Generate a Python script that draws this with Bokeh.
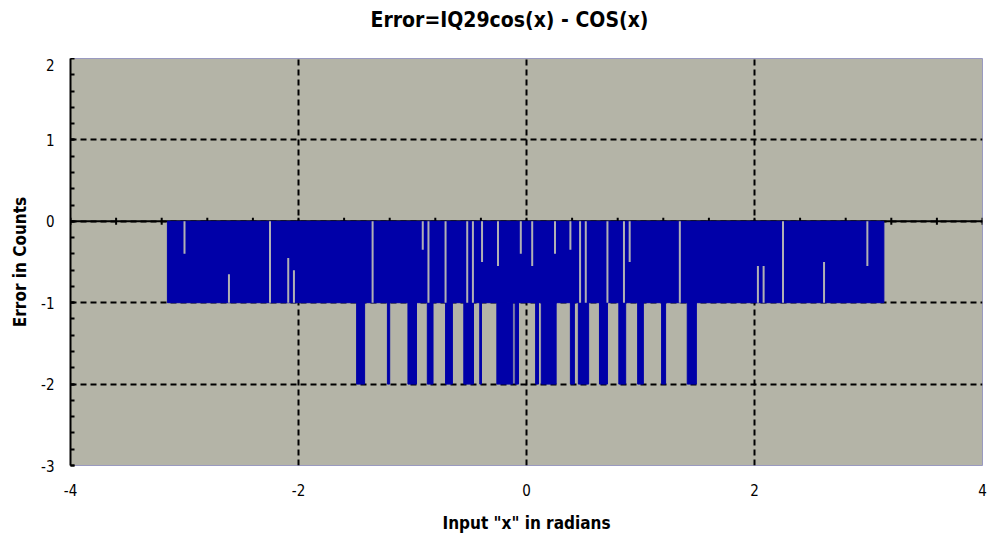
import numpy as np
from bokeh.plotting import figure
from bokeh.models import Range1d, FixedTicker, Span, PrintfTickFormatter, Div
from bokeh.layouts import column
from bokeh.embed import file_html
from bokeh.resources import INLINE

# ---- data ----
title_text = "Error=IQ29cos(x) - COS(x)"
x_label = 'Input "x" in radians'
y_label = "Error in Counts"

x_ticks = [-4, -2, 0, 2, 4]
y_ticks = [-3, -2, -1, 0, 1, 2]

# dense oscillation between 0 and -1 over the input range
band_left = [-3.15]
band_right = [3.135]
band_top = [0.0]
band_bottom = [-1.0]

# places where the error dips to -2 counts
dip_left = [-1.49, -1.22, -1.04, -0.87, -0.71, -0.55, -0.41, -0.26, -0.10,
            0.08, 0.13, 0.385, 0.455, 0.64, 0.81, 0.975, 1.185, 1.41]
dip_right = [-1.42, -1.20, -0.965, -0.82, -0.65, -0.465, -0.395, -0.12, -0.07,
             0.105, 0.26, 0.42, 0.545, 0.71, 0.87, 1.025, 1.22, 1.49]
dip_bottom = [-2.0] * len(dip_left)

# places where the error stays constant (gaps in the dense band)
gap_x = [-3.00, -2.61, -2.25, -2.09, -2.04, -1.35, -0.91, -0.86, -0.71, -0.52,
         -0.47, -0.39, -0.25, -0.05, 0.05, 0.25, 0.385, 0.47, 0.52, 0.71,
         0.855, 0.905, 1.345, 2.03, 2.08, 2.25, 2.61, 2.99]
gap_top = [0.0, -0.65, 0.0, -0.45, -0.6, 0.0, 0.0, 0.0, 0.0, 0.0,
           0.0, 0.0, 0.0, 0.0, 0.0, 0.0, 0.0, 0.0, 0.0, 0.0,
           0.0, 0.0, 0.0, -0.55, -0.55, 0.0, -0.5, 0.0]
gap_bottom = [-0.4, -1.0, -1.0, -1.0, -1.0, -1.0, -0.35, -1.0, -1.0, -1.0,
              -1.0, -0.5, -0.55, -0.4, -0.55, -0.4, -0.35, -1.0, -1.0, -1.0,
              -1.0, -0.5, -1.0, -1.0, -1.0, -1.0, -1.0, -0.55]

# ---- styling ----
BG = "#B4B4A7"
BLUE = "#0000A8"
FONT = "DejaVu Sans Condensed"

title_div = Div(text=title_text, width=997, height=48,
                styles={"font-family": "'DejaVu Sans Condensed', sans-serif",
                        "font-size": "21px", "font-weight": "bold", "color": "black",
                        "text-align": "center", "padding-left": "12px",
                        "padding-top": "0px", "box-sizing": "border-box"})

p = figure(frame_width=912, frame_height=407, output_backend="svg", toolbar_location=None,
           x_range=Range1d(-4, 4), y_range=Range1d(-3, 2),
           min_border_left=70, min_border_right=15, min_border_top=0,
           min_border_bottom=70, title_location=None)
p.background_fill_color = BG
p.border_fill_color = "white"
p.outline_line_color = "#9A9AC0"
p.outline_line_width = 1

# grids
p.xaxis.ticker = FixedTicker(ticks=x_ticks)
p.yaxis.ticker = FixedTicker(ticks=y_ticks, minor_ticks=list(np.arange(-3, 2.001, 0.2)))
p.xaxis.formatter = PrintfTickFormatter(format="%d")
p.yaxis.formatter = PrintfTickFormatter(format="%d")
for g in (p.xgrid, p.ygrid):
    g.grid_line_color = "black"
    g.grid_line_dash = "6 4"
    g.grid_line_width = 2

# x axis: labels only at the bottom
p.xaxis.axis_line_color = None
p.xaxis.major_tick_line_color = None
p.xaxis.minor_tick_line_color = None
p.xaxis.major_label_standoff = 12
p.xaxis.axis_label = x_label
p.xaxis.axis_label_standoff = 14
p.xaxis.axis_label_text_font = FONT
p.xaxis.axis_label_text_font_size = "17px"
p.xaxis.axis_label_text_font_style = "bold"
p.xaxis.axis_label_text_color = "black"
p.xaxis.major_label_text_font = FONT
p.xaxis.major_label_text_font_size = "15px"
p.xaxis.major_label_text_color = "black"

# y axis
p.yaxis.axis_line_color = "black"
p.yaxis.axis_line_width = 2
p.yaxis.major_tick_in = 4
p.yaxis.major_tick_out = 0
p.yaxis.minor_tick_in = 4
p.yaxis.minor_tick_out = 0
p.yaxis.major_tick_line_width = 2
p.yaxis.minor_tick_line_width = 2
p.yaxis.major_tick_line_color = "black"
p.yaxis.minor_tick_line_color = "black"
p.yaxis.major_label_standoff = 16
p.yaxis.axis_label = y_label
p.yaxis.axis_label_standoff = 8
p.yaxis.axis_label_text_font = FONT
p.yaxis.axis_label_text_font_size = "17px"
p.yaxis.axis_label_text_font_style = "bold"
p.yaxis.axis_label_text_color = "black"
p.yaxis.major_label_text_font = FONT
p.yaxis.major_label_text_font_size = "15px"
p.yaxis.major_label_text_color = "black"

# the horizontal axis line crossing at y=0, with its tick marks
p.add_layout(Span(location=0, dimension="width", line_color="black", line_width=2, level="underlay"))
xt = list(np.arange(-4, 4.001, 0.4))
p.scatter(x=xt, y=[0] * len(xt), marker="dash", angle=np.pi / 2, size=7,
          line_color="black", line_width=2)

# series
p.quad(left=band_left, right=band_right, top=band_top, bottom=band_bottom,
       fill_color=BLUE, line_color=BLUE, line_width=1)
p.quad(left=dip_left, right=dip_right, top=[-1.0] * len(dip_left), bottom=dip_bottom,
       fill_color=BLUE, line_color=BLUE, line_width=1)
p.segment(x0=gap_x, y0=gap_top, x1=gap_x, y1=gap_bottom, line_color="#B0B0B4", line_width=2)

layout = column(title_div, p, spacing=0)
open("out.html", "w").write(file_html(layout, INLINE))
